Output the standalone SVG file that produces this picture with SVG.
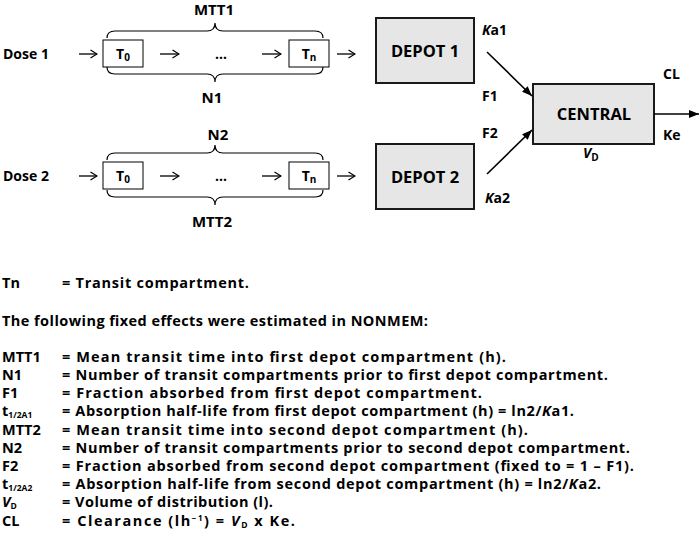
<svg xmlns="http://www.w3.org/2000/svg" width="700" height="546" viewBox="0 0 700 546">
<style>
text { font-family: "Open Sans", "Liberation Sans", sans-serif; font-weight: 700; fill: #000; }
.lbl { font-size: 14px; }
.cap { font-size: 15px; }
.box { font-size: 16.5px; }
.def { font-size: 14.5px; }
.it { font-style: italic; }
.tbox { fill: #fff; stroke: #000; stroke-width: 1; }
.cmp { fill: #e6e6e6; stroke: #1a1a1a; stroke-width: 2; }
.brace { fill: none; stroke: #000; stroke-width: 1.2; }
.thin { stroke: #000; stroke-width: 1.3; fill: none; marker-end: url(#open); }
.thick { stroke: #000; stroke-width: 1.6; fill: none; marker-end: url(#solid); }
</style>
<defs>
<marker id="open" viewBox="0 0 8 10" refX="7.5" refY="5" markerWidth="8" markerHeight="10" markerUnits="userSpaceOnUse" orient="auto">
<path d="M1,1 L7.5,5 L1,9" fill="none" stroke="#000" stroke-width="1.2"/>
</marker>
<marker id="solid" viewBox="0 0 10 8" refX="10" refY="4" markerWidth="10" markerHeight="8" markerUnits="userSpaceOnUse" orient="auto">
<path d="M0,0 L10,4 L0,8 Z" fill="#000"/>
</marker>
</defs>

<!-- Row 1 -->
<g id="dose1"><text class="lbl" x="3" y="59">Dose 1</text></g>
<g id="t0-1"><rect class="tbox" x="103" y="40" width="40" height="27"/><text class="lbl" x="123" y="59" text-anchor="middle">T<tspan font-size="10" dy="2">0</tspan></text></g>
<g id="dots1"><text class="lbl" x="221" y="59" text-anchor="middle">…</text></g>
<g id="tn-1"><rect class="tbox" x="289" y="40" width="40" height="27"/><text class="lbl" x="309" y="59" text-anchor="middle">T<tspan font-size="10" dy="2">n</tspan></text></g>
<g id="mtt1"><path class="brace" d="M107,38 Q107,31 115,31 L207,31 Q215,31 215,23 Q215,31 223,31 L315,31 Q323,31 323,38"/><text class="cap" x="214" y="15" text-anchor="middle">MTT1</text></g>
<g id="n1"><path class="brace" d="M107,67 Q107,74 115,74 L207,74 Q215,74 215,82 Q215,74 223,74 L315,74 Q323,74 323,67"/><text class="cap" x="212" y="103" text-anchor="middle">N1</text></g>

<!-- Row 2 -->
<g id="dose2"><text class="lbl" x="3" y="181">Dose 2</text></g>
<g id="t0-2"><rect class="tbox" x="103" y="162" width="40" height="27"/><text class="lbl" x="123" y="181" text-anchor="middle">T<tspan font-size="10" dy="2">0</tspan></text></g>
<g id="dots2"><text class="lbl" x="221" y="181" text-anchor="middle">…</text></g>
<g id="tn-2"><rect class="tbox" x="289" y="162" width="40" height="27"/><text class="lbl" x="309" y="181" text-anchor="middle">T<tspan font-size="10" dy="2">n</tspan></text></g>
<g id="n2"><path class="brace" d="M107,160 Q107,153 115,153 L207,153 Q215,153 215,145 Q215,153 223,153 L315,153 Q323,153 323,160"/><text class="cap" x="218" y="140" text-anchor="middle">N2</text></g>
<g id="mtt2"><path class="brace" d="M107,190 Q107,197 115,197 L207,197 Q215,197 215,205 Q215,197 223,197 L315,197 Q323,197 323,190"/><text class="cap" x="212" y="227" text-anchor="middle">MTT2</text></g>

<!-- Compartments -->
<g id="depot1"><rect class="cmp" x="376" y="18" width="98" height="65"/><text class="box" x="425" y="57" text-anchor="middle">DEPOT 1</text></g>
<g id="depot2"><rect class="cmp" x="376" y="144" width="98" height="65"/><text class="box" x="425" y="183" text-anchor="middle">DEPOT 2</text></g>
<g id="central"><rect class="cmp" x="533" y="84" width="121" height="60"/><text class="box" x="594" y="120" text-anchor="middle">CENTRAL</text></g>

<!-- Connectors -->
<g id="connectors">
<line class="thin" x1="79" y1="54" x2="97" y2="54"/>
<line class="thin" x1="160" y1="54" x2="179" y2="54"/>
<line class="thin" x1="262" y1="54" x2="281" y2="54"/>
<line class="thin" x1="337" y1="54" x2="355" y2="54"/>
<line class="thin" x1="79" y1="176" x2="97" y2="176"/>
<line class="thin" x1="160" y1="176" x2="179" y2="176"/>
<line class="thin" x1="262" y1="176" x2="281" y2="176"/>
<line class="thin" x1="337" y1="176" x2="355" y2="176"/>
<line class="thick" x1="487" y1="52" x2="532" y2="96"/>
<line class="thick" x1="487" y1="174" x2="532" y2="130"/>
<line class="thick" x1="654" y1="114" x2="699" y2="114"/>
</g>

<!-- Parameter labels -->
<g id="labels">
<text class="lbl" x="482" y="35"><tspan class="it">K</tspan>a1</text>
<text class="lbl" x="482" y="101">F1</text>
<text class="lbl" x="482" y="138">F2</text>
<text class="lbl" x="485" y="203"><tspan class="it">K</tspan>a2</text>
<text class="lbl" x="663" y="79">CL</text>
<text class="lbl" x="663" y="140">Ke</text>
<text class="lbl" x="583" y="158"><tspan class="it">V</tspan><tspan font-size="10" dy="3">D</tspan></text>
</g>

<!-- Legend -->
<g id="legend">
<text class="def" x="2" y="288">Tn</text>
<text class="def" x="62" y="288" textLength="187">= Transit compartment.</text>
<text class="def" x="2" y="326" textLength="426">The following fixed effects were estimated in NONMEM:</text>

<text class="def" x="2" y="362">MTT1</text>
<text class="def" x="62" y="362" textLength="444">= Mean transit time into first depot compartment (h).</text>
<text class="def" x="2" y="380">N1</text>
<text class="def" x="62" y="380" textLength="546">= Number of transit compartments prior to first depot compartment.</text>
<text class="def" x="2" y="398">F1</text>
<text class="def" x="62" y="398" textLength="420">= Fraction absorbed from first depot compartment.</text>
<text class="def" x="2" y="416">t<tspan font-size="8.5" dy="2">1/2A1</tspan></text>
<text class="def" x="62" y="416" textLength="512">= Absorption half-life from first depot compartment (h) = ln2/<tspan class="it">K</tspan>a1.</text>
<text class="def" x="2" y="435">MTT2</text>
<text class="def" x="62" y="435" textLength="466">= Mean transit time into second depot compartment (h).</text>
<text class="def" x="2" y="453">N2</text>
<text class="def" x="62" y="453" textLength="568">= Number of transit compartments prior to second depot compartment.</text>
<text class="def" x="2" y="471">F2</text>
<text class="def" x="62" y="471" textLength="572">= Fraction absorbed from second depot compartment (fixed to = 1 – F1).</text>
<text class="def" x="2" y="489">t<tspan font-size="8.5" dy="2">1/2A2</tspan></text>
<text class="def" x="62" y="489" textLength="539">= Absorption half-life from second depot compartment (h) = ln2/<tspan class="it">K</tspan>a2.</text>
<text class="def" x="2" y="507"><tspan class="it">V</tspan><tspan font-size="8.5" dy="2">D</tspan></text>
<text class="def" x="62" y="507" textLength="211">= Volume of distribution (l).</text>
<text class="def" x="2" y="526">CL</text>
<text class="def" x="62" y="526" textLength="233">= Clearance (lh<tspan font-size="8" dy="-5">−1</tspan><tspan dy="5">) = </tspan><tspan class="it">V</tspan><tspan font-size="8.5" dy="2">D</tspan><tspan dy="-2"> x Ke.</tspan></text>
</g>
</svg>
